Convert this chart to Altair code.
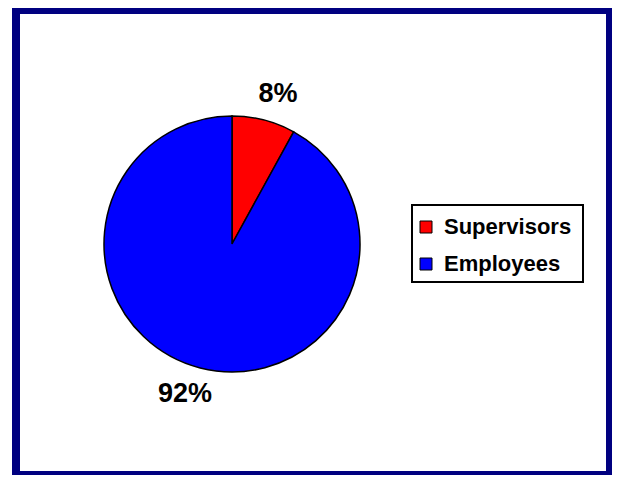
import altair as alt
import pandas as pd

categories = ["Supervisors", "Employees"]
values = [8, 92]
labels = ["8%", "92%"]
colors = ["#FF0000", "#0000FF"]

df = pd.DataFrame({"category": categories, "value": values, "label": labels,
                   "order": list(range(len(categories)))})
deco = pd.DataFrame({"k": [0]})

FONT = "Liberation Sans"
THETA_SCALE = alt.Scale(domain=[0, 100])

frame = alt.Chart(deco).mark_rect(color="#000080").encode(
    x=alt.value(4), x2=alt.value(604), y=alt.value(0), y2=alt.value(467))
inner = alt.Chart(deco).mark_rect(color="white").encode(
    x=alt.value(12), x2=alt.value(598), y=alt.value(6), y2=alt.value(463))
legend_box = alt.Chart(deco).mark_rect(fill="white", stroke="black", strokeWidth=2).encode(
    x=alt.value(404), x2=alt.value(575), y=alt.value(197), y2=alt.value(274))

pie = alt.Chart(df).mark_arc(outerRadius=128, stroke="black", strokeWidth=1.5, opacity=1).encode(
    theta=alt.Theta("value:Q", stack=True, scale=THETA_SCALE),
    order=alt.Order("order:Q"),
    x=alt.value(224), y=alt.value(236),
    color=alt.Color("category:N",
                    scale=alt.Scale(domain=categories, range=colors),
                    sort=categories,
                    legend=alt.Legend(title=None, orient="none", legendX=398, legendY=199,
                                      symbolType="square", symbolSize=144,
                                      symbolStrokeColor="black", symbolStrokeWidth=1,
                                      symbolOpacity=1,
                                      labelFont=FONT, labelFontSize=22, labelFontWeight="bold",
                                      labelColor="black", labelOffset=7, rowPadding=15,
                                      padding=9)),
)

lab_base = alt.Chart(df).transform_stack(
    stack="value", groupby=[], as_=["v0", "v1"], sort=[alt.SortField("order")]
).transform_calculate(mid="(datum.v0 + datum.v1) / 2")


def label_layer(cat, dx, dy):
    return lab_base.transform_filter(alt.datum.category == cat).mark_text(
        radius=157, font=FONT, fontSize=27, fontWeight="bold", color="black",
        dx=dx, dy=dy, baseline="middle", align="center"
    ).encode(
        theta=alt.Theta("mid:Q", stack=None, scale=THETA_SCALE),
        x=alt.value(224), y=alt.value(236), text="label:N",
    )


lab1 = label_layer("Supervisors", 7, 2)
lab2 = label_layer("Employees", -8, -2)

chart = alt.layer(frame, inner, legend_box, pie, lab1, lab2).properties(
    width=604, height=467, padding=0,
    autosize=alt.AutoSizeParams(type="none"),
    background="white",
).configure_view(stroke=None)

chart.save("out.html", embed_options={"renderer": "svg", "actions": False})
